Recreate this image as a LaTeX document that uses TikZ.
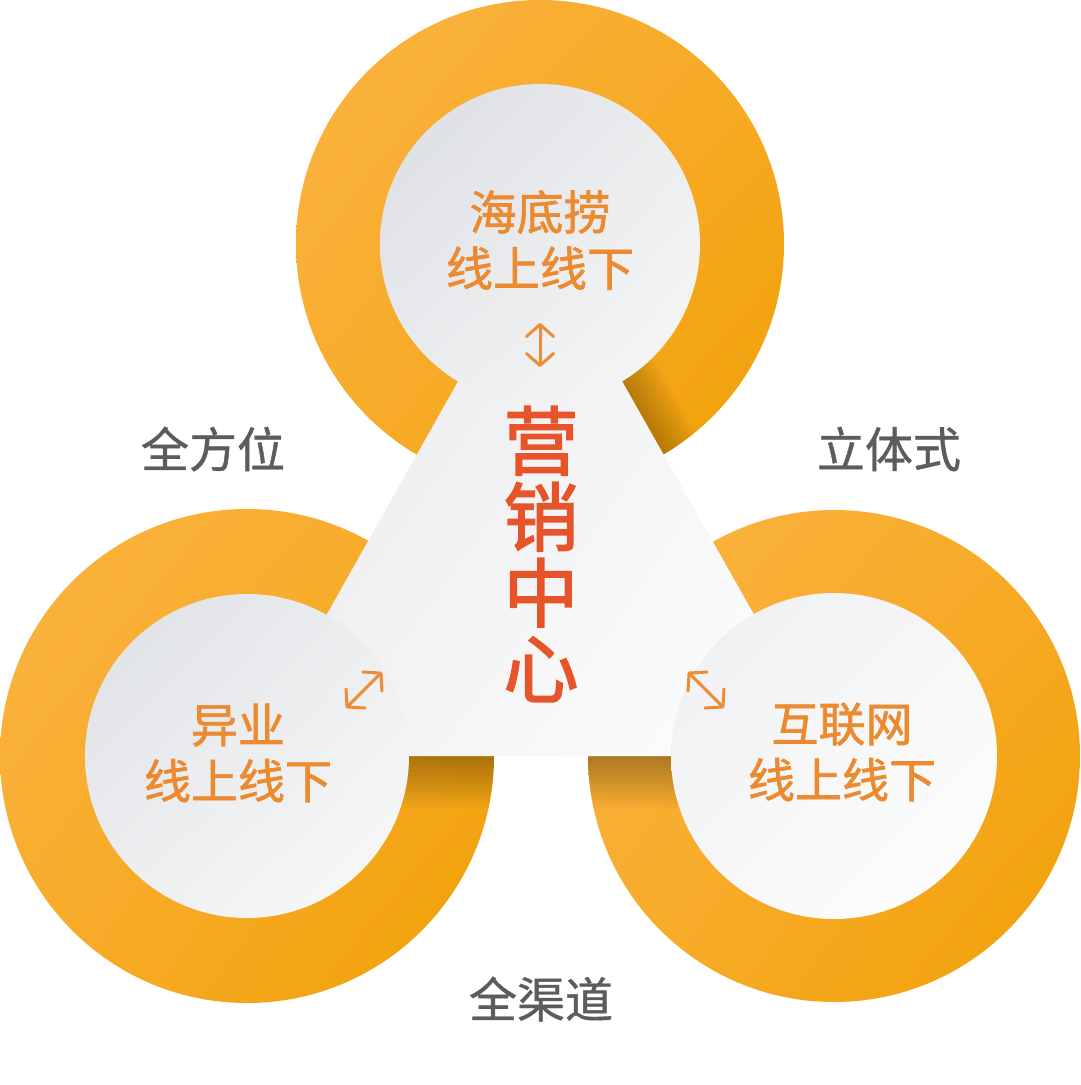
\documentclass[tikz,border=0pt]{standalone}
\usepackage{fontspec}
\newfontfamily\cjkc{Noto Sans CJK SC}[FakeBold=2.2]
\newfontfamily\cjkm{Noto Sans CJK SC}[FakeBold=1.4]
\newfontfamily\cjkg{Noto Sans CJK SC}[FakeBold=0.8]
\usetikzlibrary{arrows.meta,calc,shadings}
\definecolor{ringUL}{HTML}{FBB443}
\definecolor{ringUR}{HTML}{F7AA26}
\definecolor{ringLL}{HTML}{F8AC2C}
\definecolor{ringLR}{HTML}{F1A005}
\definecolor{labelorange}{HTML}{EC8A2F}
\definecolor{arroworange}{HTML}{EE8C36}
\definecolor{centerred}{HTML}{E8542A}
\definecolor{labelgray}{HTML}{5C5C5F}
\definecolor{tdUL}{HTML}{DADDE2}
\definecolor{tdM}{HTML}{EBECEE}
\definecolor{tdLR}{HTML}{F8F8F8}
\definecolor{ldUL}{HTML}{DDE0E4}
\definecolor{ldM}{HTML}{EDEEF0}
\definecolor{ldLR}{HTML}{FAFAFA}
\definecolor{rdUL}{HTML}{EEEFF1}
\definecolor{rdM}{HTML}{F7F7F8}
\definecolor{trUL}{HTML}{E6E7EA}
\definecolor{trUR}{HTML}{F7F7F8}
\definecolor{trLL}{HTML}{F1F1F3}
\tikzset{
  ringfill/.style={upper left=ringUL, upper right=ringUR, lower left=ringLL, lower right=ringLR},
  orangelabel/.style={font=\cjkm\fontsize{47}{56}\selectfont, text=labelorange, align=center, inner sep=0pt},
  graylabel/.style={font=\cjkg\fontsize{48}{56}\selectfont, text=labelgray, inner sep=0pt},
  centerlabel/.style={font=\cjkc\fontsize{75}{76}\selectfont, text=centerred, align=center, inner sep=0pt},
  dblarrow/.style={draw=arroworange, line width=3pt, line cap=round,
    {Straight Barb[length=12pt,width=27pt,round]}-{Straight Barb[length=12pt,width=27pt,round]}},
}
\begin{document}
\begin{tikzpicture}[x=1pt,y=-1pt]
\useasboundingbox (0,0) rectangle (1080,1085);
\fill[white] (0,0) rectangle (1080,1085);
% centres
\coordinate (ctop) at (540,244);
\coordinate (cleft) at (247,756);
\coordinate (cright) at (834,756);
\coordinate (tA) at (540,236);
\coordinate (tL) at (247,756);
\coordinate (tR) at (834,756);
% orange discs
\shade[ringfill] (ctop) circle[radius=244pt];
\shade[ringfill] (cleft) circle[radius=247pt];
\shade[ringfill] (cright) circle[radius=246pt];
% shadows under the triangle edges
\begin{scope}
  \clip (ctop) circle[radius=244pt];
  \foreach \h in {3,6,...,39}{
    \fill[black,opacity=0.02] (tA) -- (tR) -- ($(tR)+(0.870*\h,-0.492*\h)$) -- ($(tA)+(0.870*\h,-0.492*\h)$) -- cycle;
  }
\end{scope}
\begin{scope}
  \clip (cleft) circle[radius=247pt];
  \foreach \h in {4,8,...,52}{
    \fill[black,opacity=0.025] (390,756) rectangle (505,756+\h);
  }
\end{scope}
\begin{scope}
  \clip (cright) circle[radius=246pt];
  \foreach \h in {4,8,...,52}{
    \fill[black,opacity=0.025] (575,756) rectangle (690,756+\h);
  }
\end{scope}
% central triangle
\shade[upper left=trUL, upper right=trUR, lower left=trLL, lower right=white] (tA) -- (tR) -- (tL) -- cycle;
% inner discs
\shade[upper left=tdUL, upper right=tdM, lower left=tdM, lower right=tdLR] (ctop) circle[radius=160pt];
\shade[upper left=ldUL, upper right=ldM, lower left=ldM, lower right=ldLR] (cleft) circle[radius=162pt];
\shade[upper left=rdUL, upper right=rdM, lower left=rdM, lower right=white] (cright) circle[radius=163pt];
% labels
\node[orangelabel] (top) at (540,240) {海底捞\\线上线下};
\node[orangelabel] (left) at (238,753) {异业\\线上线下};
\node[orangelabel] (right) at (842,752) {互联网\\线上线下};
\node[centerlabel] (center) at (541,554) {营\\销\\中\\心};
\node[graylabel] (g1) at (213,449) {全方位};
\node[graylabel] (g2) at (889,449) {立体式};
\node[graylabel] (g3) at (541,999) {全渠道};
% arrows
\coordinate (a1s) at (540,367);
\coordinate (a1e) at (540,323);
\coordinate (a2s) at (346,708);
\coordinate (a2e) at (382,672);
\coordinate (a3s) at (688,672);
\coordinate (a3e) at (724,708);
\draw[dblarrow] (a1s) -- (a1e);
\draw[dblarrow] (a2s) -- (a2e);
\draw[dblarrow] (a3s) -- (a3e);
\end{tikzpicture}
\end{document}
